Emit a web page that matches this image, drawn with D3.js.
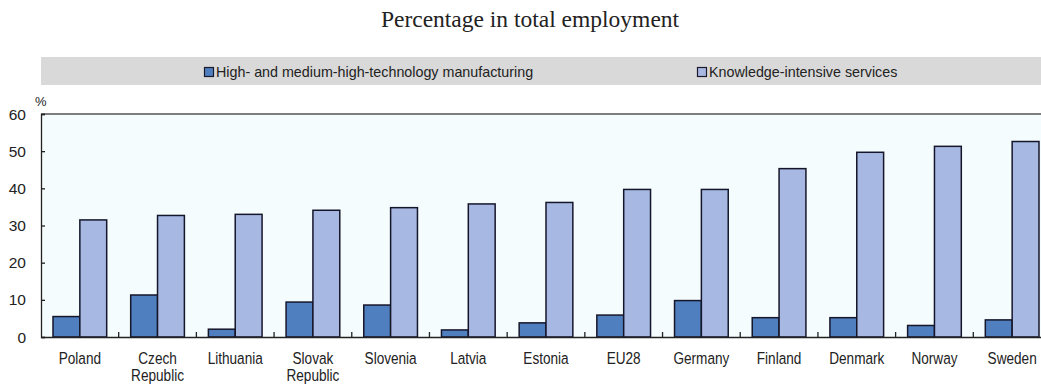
<!DOCTYPE html>
<html>
<head>
<meta charset="utf-8">
<script src="https://cdn.jsdelivr.net/npm/d3@7"></script>
<style>
  body { margin: 0; background: #fff; }
  svg text { font-family: "Liberation Sans", Arial, sans-serif; fill: #222; }
</style>
</head>
<body>
<script>
let width = 1041;
let height = 386;

// data
let countries = ["Poland", "Czech Republic", "Lithuania", "Slovak Republic", "Slovenia", "Latvia",
    "Estonia", "EU28", "Germany", "Finland", "Denmark", "Norway", "Sweden"];
let hightech = [5.5, 11.3, 2.1, 9.4, 8.6, 1.9, 3.8, 5.9, 9.8, 5.2, 5.2, 3.1, 4.6];
let knowledge = [31.5, 32.7, 33.0, 34.1, 34.8, 35.8, 36.2, 39.7, 39.7, 45.3, 49.7, 51.3, 52.6];
let seriesNames = ["High- and medium-high-technology manufacturing", "Knowledge-intensive services"];
let yTicks = [0, 10, 20, 30, 40, 50, 60];

let colors = ["#4f7fbf", "#a7b8e3"];
let plotLeft = 41, plotRight = 1051, plotTop = 114, plotBottom = 337;

let svg = d3.select("body")
    .append("svg")
    .attr("width", width)
    .attr("height", height);

// title
svg.append("text")
    .attr("x", 530)
    .attr("y", 27)
    .attr("text-anchor", "middle")
    .style("font-family", "'Liberation Serif', 'Times New Roman', serif")
    .style("font-size", "23.5px")
    .text("Percentage in total employment");

// legend band
svg.append("rect")
    .attr("x", plotLeft)
    .attr("y", 57)
    .attr("width", width - plotLeft)
    .attr("height", 28)
    .attr("fill", "#d9d9d9");

let legendX = [204, 697];
seriesNames.forEach(function(name, i) {
    svg.append("rect")
        .attr("x", legendX[i] + 0.5)
        .attr("y", 67.5)
        .attr("width", 9)
        .attr("height", 9)
        .attr("fill", colors[i])
        .attr("stroke", "#1b1b2b")
        .attr("stroke-width", 1.2);
    svg.append("text")
        .attr("x", legendX[i] + 12)
        .attr("y", 77)
        .style("font-size", "14.3px")
        .text(name);
});

let x = d3.scaleBand().domain(countries).range([plotLeft, plotRight]).paddingInner(0).paddingOuter(0);
let x1 = d3.scaleBand().domain([0, 1]).range([12, x.bandwidth() - 12]);
let y = d3.scaleLinear().domain([0, 60]).range([plotBottom, plotTop]);

// plot background
svg.append("rect")
    .attr("x", plotLeft)
    .attr("y", plotTop)
    .attr("width", plotRight - plotLeft)
    .attr("height", plotBottom - plotTop)
    .attr("fill", "#f4fcfe");

svg.append("line")
    .attr("x1", plotLeft).attr("x2", plotRight)
    .attr("y1", plotTop).attr("y2", plotTop)
    .attr("stroke", "#555")
    .attr("stroke-width", 1.5);

// bars
let groups = svg.append("g")
    .selectAll("g")
    .data(countries)
    .enter()
    .append("g")
    .attr("transform", function(d) { return "translate(" + x(d) + ",0)"; });

[hightech, knowledge].forEach(function(series, s) {
    groups.append("rect")
        .attr("x", x1(s))
        .attr("y", function(d, i) { return y(series[i]); })
        .attr("width", x1.bandwidth())
        .attr("height", function(d, i) { return y(0) - y(series[i]); })
        .attr("fill", colors[s])
        .attr("stroke", "#16162a")
        .attr("stroke-width", 1.5);
});

// y axis
let yAxis = svg.append("g")
    .attr("transform", "translate(" + plotLeft + ",0)")
    .call(d3.axisRight(y).tickValues(yTicks).tickSize(4).tickFormat(""));
yAxis.select(".domain").attr("stroke", "#222").attr("stroke-width", 1.3);
yAxis.selectAll(".tick line").attr("stroke", "#222").attr("stroke-width", 1.3);

svg.append("g")
    .selectAll("text")
    .data(yTicks)
    .enter()
    .append("text")
    .attr("x", 26)
    .attr("y", function(d) { return y(d) + 5.5; })
    .attr("text-anchor", "end")
    .style("font-size", "15.5px")
    .text(function(d) { return d; });

svg.append("text")
    .attr("x", 35)
    .attr("y", 106)
    .style("font-size", "13px")
    .text("%");

// x axis
let xAxis = svg.append("g")
    .attr("transform", "translate(0," + plotBottom + ")")
    .call(d3.axisTop(x).tickValues([]).tickSizeOuter(0));
xAxis.select(".domain").attr("stroke", "#222").attr("stroke-width", 1.5);

svg.append("g")
    .selectAll("line")
    .data(countries.slice(1))
    .enter()
    .append("line")
    .attr("x1", function(d) { return x(d); })
    .attr("x2", function(d) { return x(d); })
    .attr("y1", plotBottom)
    .attr("y2", plotBottom - 5)
    .attr("stroke", "#222")
    .attr("stroke-width", 1.3);

let labels = svg.append("g")
    .selectAll("text")
    .data(countries)
    .enter()
    .append("text")
    .attr("text-anchor", "middle")
    .attr("transform", function(d) {
        return "translate(" + (x(d) + x.bandwidth() / 2) + ",364) scale(0.8,1)";
    })
    .style("font-size", "17px");

labels.each(function(d) {
    let words = d.split(" ");
    let t = d3.select(this);
    words.forEach(function(w, i) {
        t.append("tspan")
            .attr("x", 0)
            .attr("dy", i == 0 ? 0 : 17)
            .text(w);
    });
});
</script>
</body>
</html>
